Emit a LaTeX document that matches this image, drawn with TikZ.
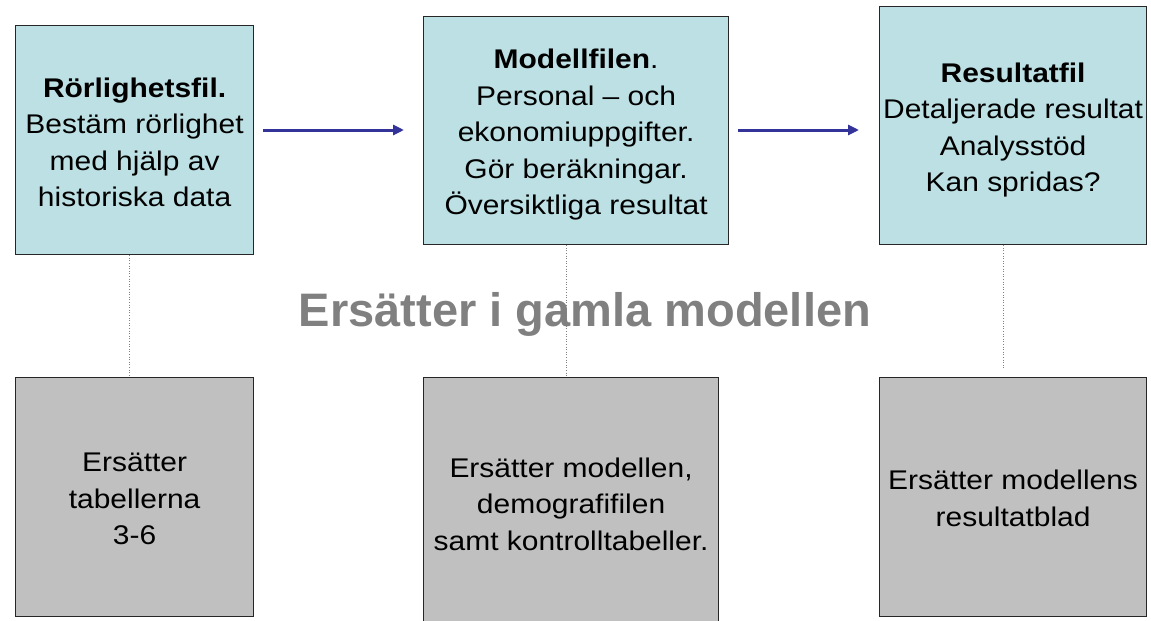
\documentclass[tikz,border=0pt]{standalone}
\usepackage{fontspec}
\setmainfont{Liberation Sans}
\newfontfamily\bodyfont{Liberation Sans}[FakeStretch=1.11]
\usetikzlibrary{arrows.meta}
\definecolor{boxcyan}{RGB}{188,224,227}
\definecolor{boxgray}{RGB}{192,192,192}
\definecolor{arrowblue}{RGB}{51,51,153}
\definecolor{titlegray}{RGB}{128,128,128}
\tikzset{
  topbox/.style={draw=black!85, line width=1.2pt, fill=boxcyan, rectangle, inner sep=0pt, anchor=north west},
  botbox/.style={draw=black!85, line width=1.2pt, fill=boxgray, rectangle, inner sep=0pt, anchor=north west},
  txt/.style={align=center, inner sep=0pt, font=\bodyfont\fontsize{27}{36.5}\selectfont},
  arr/.style={draw=arrowblue, line width=3pt, -{Triangle[length=11pt,width=10pt]}},
  dotline/.style={draw=black!50, line width=0.6pt, dotted},
  title/.style={text=titlegray, inner sep=0pt, anchor=base, font=\fontsize{47}{56}\selectfont\bfseries}
}
\begin{document}
\begin{tikzpicture}[x=1pt,y=-1pt]
\useasboundingbox (0,0) rectangle (1151,621);
% top boxes
\node[topbox, minimum width=238pt, minimum height=229pt] (b1) at (15,25) {};
\node[topbox, minimum width=305pt, minimum height=228pt] (b2) at (423,16) {};
\node[topbox, minimum width=267pt, minimum height=238pt] (b3) at (879,6) {};
% bottom boxes
\node[botbox, minimum width=238pt, minimum height=239pt] (b4) at (15,377) {};
\node[botbox, minimum width=295pt, minimum height=253pt] (b5) at (423,377) {};
\node[botbox, minimum width=267pt, minimum height=239pt] (b6) at (879,377) {};
% texts
\node[txt] (t1) at ([yshift=-2pt]b1.center) {\textbf{Rörlighetsfil.}\\Bestäm rörlighet\\med hjälp av\\historiska data};
\node[txt] (t2) at ([yshift=-4pt]b2.center) {\textbf{Modellfilen}.\\Personal – och\\ekonomiuppgifter.\\Gör beräkningar.\\Översiktliga resultat};
\node[txt] (t3) at ([yshift=-4.5pt]b3.center) {\textbf{Resultatfil}\\Detaljerade resultat\\Analysstöd\\Kan spridas?};
\node[txt] (t4) at ([yshift=-2pt]b4.center) {Ersätter\\tabellerna\\3-6};
\node[txt] (t5) at (b5.center) {Ersätter modellen,\\demografifilen\\samt kontrolltabeller.};
\node[txt] (t6) at ([yshift=-1pt]b6.center) {Ersätter modellens\\resultatblad};
% title
\node[title] (ti) at (585,326) {Ersätter i gamla modellen};
% arrows
\coordinate (ya) at (0,130);
\draw[arr, shorten <=9pt, shorten >=19pt] (b1.east |- ya) -- (b2.west |- ya);
\draw[arr, shorten <=9pt, shorten >=20pt] (b2.east |- ya) -- (b3.west |- ya);
% dotted links
\coordinate (d1) at (129.3,0);
\coordinate (d2) at (566,0);
\coordinate (d3) at (1003.3,0);
\draw[dotline] (b1.south -| d1) -- (b4.north -| d1);
\draw[dotline] (b2.south -| d2) -- (b5.north -| d2);
\draw[dotline, shorten >=9pt] (b3.south -| d3) -- (b6.north -| d3);
\end{tikzpicture}
\end{document}
